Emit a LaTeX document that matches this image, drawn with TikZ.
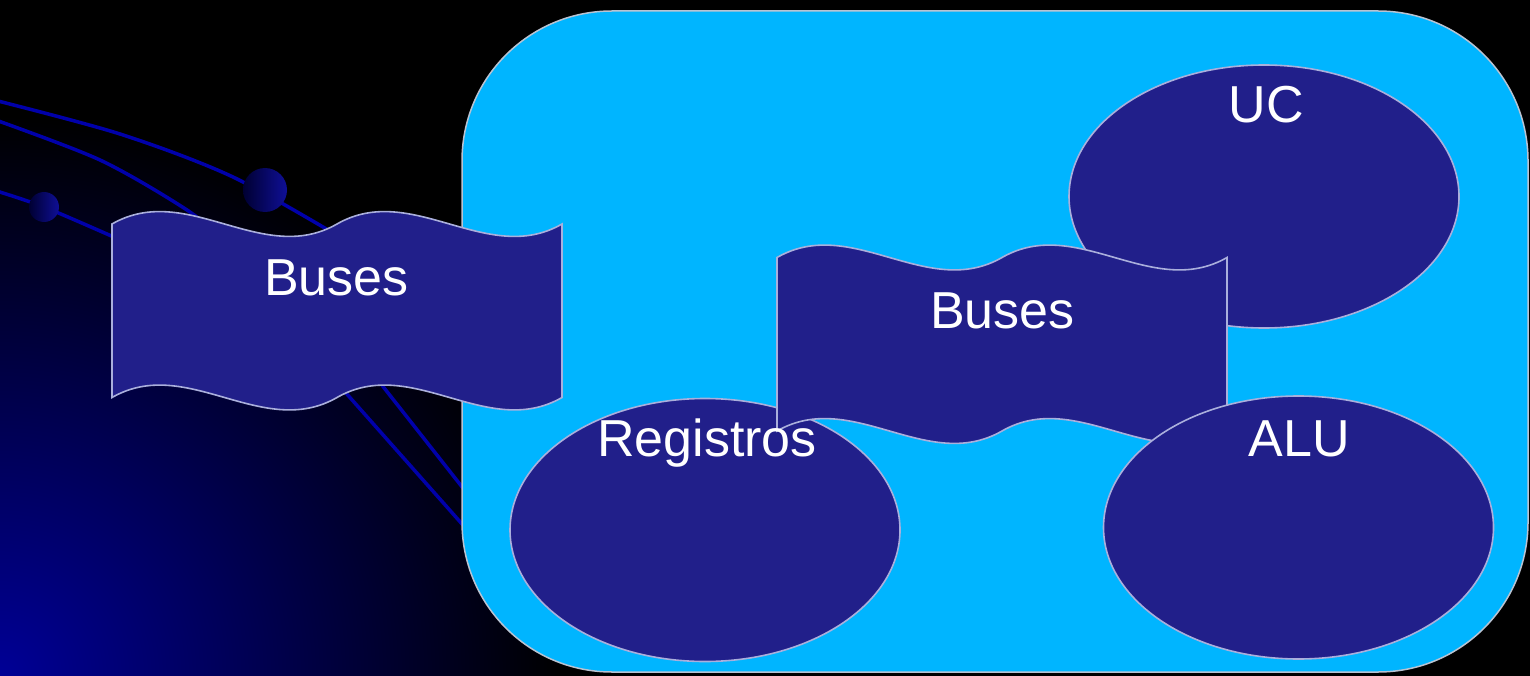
\documentclass[tikz,border=0pt]{standalone}
\usepackage{fontspec}
\setmainfont{Liberation Sans}
\usetikzlibrary{shapes.geometric}
\definecolor{navy}{RGB}{33,31,138}
\definecolor{edge}{RGB}{170,175,220}
\definecolor{cyanbg}{RGB}{0,181,255}
\definecolor{boardedge}{RGB}{185,195,210}
\definecolor{deco}{RGB}{0,0,170}
\definecolor{bgblue}{RGB}{0,0,150}
\definecolor{balldark}{RGB}{0,0,50}
\definecolor{balllight}{RGB}{15,15,150}
\begin{document}
\begin{tikzpicture}[x=1pt,y=-1pt,
  blob/.style={draw=edge, line width=1.6pt, fill=navy},
  ell/.style={ellipse, blob, inner sep=0pt, minimum width=390pt, minimum height=263pt},
  lbl/.style={text=white, font=\fontsize{52}{60}\selectfont, anchor=base, inner sep=0pt},
  decoline/.style={draw=deco, line width=3.5pt, line cap=round}]
\useasboundingbox (0,0) rectangle (1530,676);
\begin{scope}
  \clip (0,0) rectangle (1530,676);
  \fill[black] (0,0) rectangle (1530,676);
  \shade[inner color=bgblue, outer color=black] (0,676) circle (560);
  % decorative curves
  \draw[decoline] plot[smooth] coordinates {(-10,99) (120,134) (233,177) (345,240)};
  \draw[decoline] (370,370) -- (470,497);
  \draw[decoline] plot[smooth] coordinates {(-10,118) (100,160) (187,210) (230,245)};
  \draw[decoline] (330,375) -- (470,533);
  \draw[decoline] plot[smooth] coordinates {(-10,189) (44,207) (125,242)};
  \shade[left color=balldark, right color=balllight] (265,190) circle (22);
  \shade[left color=balldark, right color=balllight] (44,207) circle (15);
\end{scope}
% board
\node[draw=boardedge, line width=1.5pt, fill=cyanbg, rounded corners=150pt,
      minimum width=1066pt, minimum height=661pt, inner sep=0pt] (board) at (995,341.5) {};
% ellipses under flag 2
\node[ell] (reg) at (705,530) {};
\node[ell] (uc) at (1264,196.5) {};
% flag 1
\draw[blob] (112,224) .. controls +(75,-43) and +(-75,43) .. ++(225,0)
  .. controls +(75,-43) and +(-75,43) .. ++(225,0) -- ++(0,173.5)
  .. controls +(-75,43) and +(75,-43) .. ++(-225,0)
  .. controls +(-75,43) and +(75,-43) .. ++(-225,0) -- cycle;
% flag 2
\draw[blob] (777,257.5) .. controls +(75,-43) and +(-75,43) .. ++(225,0)
  .. controls +(75,-43) and +(-75,43) .. ++(225,0) -- ++(0,173.5)
  .. controls +(-75,43) and +(75,-43) .. ++(-225,0)
  .. controls +(-75,43) and +(75,-43) .. ++(-225,0) -- cycle;
% ellipse over flag 2
\node[ell] (alu) at (1298.5,527.5) {};
% labels
\node[lbl] (buses1) at (336.5,295) {Buses};
\node[lbl] (buses2) at (1002.5,328) {Buses};
\node[lbl] (uclbl) at (1266,123) {UC};
\node[lbl] (alulbl) at (1299,456) {ALU};
\node[lbl] (reglbl) at (707,456) {Registros};
\end{tikzpicture}
\end{document}
